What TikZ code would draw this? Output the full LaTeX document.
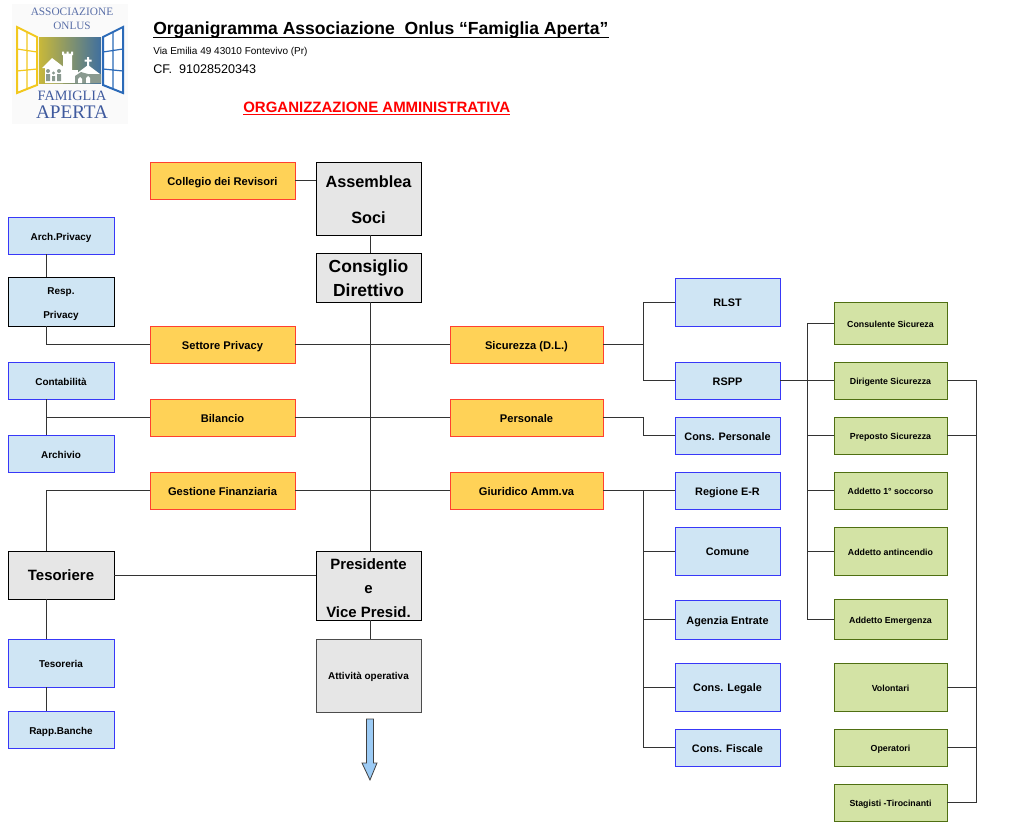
\documentclass[tikz,border=0pt]{standalone}
\usepackage{fontspec}
\setmainfont{Liberation Sans}
\newfontfamily\serifl{Liberation Serif}
\usetikzlibrary{calc}
\definecolor{orF}{HTML}{FFD257}\definecolor{orD}{HTML}{FF4030}
\definecolor{blF}{HTML}{CFE5F4}\definecolor{blD}{HTML}{3838F8}
\definecolor{grF}{HTML}{D3E3A5}\definecolor{grD}{HTML}{4F6F12}
\definecolor{gyF}{HTML}{E6E6E6}\definecolor{lineC}{HTML}{333333}
\definecolor{logoB}{HTML}{5A6FA8}\definecolor{logoC}{HTML}{3F5A9E}\definecolor{arrF}{HTML}{9CCBF5}
\definecolor{winY}{HTML}{F2C81E}\definecolor{winB}{HTML}{2B6AB8}
\definecolor{panY}{HTML}{C8B83A}\definecolor{panB}{HTML}{3F6F9F}\definecolor{figG}{HTML}{8A9A90}
\newlength\tsh
\newcommand\pxbox[7]{%
 \pgfmathsetlengthmacro\bw{(#5-#3)*0.75pt}\pgfmathsetlengthmacro\bh{(#6-#4)*0.75pt}
 \node[#1,minimum width=\bw,minimum height=\bh] (#2) at ({(#3+#5)/2},{(#4+#6)/2}) {\raisebox{\dimexpr-2.5pt-\tsh\relax}[0pt][0pt]{\begin{tabular}{@{}c@{}}#7\end{tabular}}};}
\tikzset{
 tshift/.style={execute at begin node={\setlength\tsh{#1}}},
 base/.style={draw,inner sep=0pt,line width=0.65pt,tshift=0.5pt},
 orbox/.style={base,fill=orF,draw=orD,font=\bfseries\fontsize{8.35}{15}\selectfont},
 blbox/.style={base,tshift=0pt,fill=blF,draw=blD,font=\bfseries\fontsize{8.15}{15}\selectfont},
 blsm/.style={base,tshift=-0.3pt,fill=blF,draw=blD,font=\bfseries\fontsize{7.45}{15}\selectfont},
 grbox/.style={base,tshift=-0.7pt,fill=grF,draw=grD,font=\bfseries\fontsize{6.6}{15}\selectfont},
 gybox/.style={base,tshift=2.2pt,fill=gyF,draw=black,font=\bfseries\fontsize{11.2}{18}\selectfont},
 wire/.style={draw=lineC,line width=0.6pt},
 head/.style={anchor=base west,inner sep=0pt},
 logot/.style={text=logoB,inner sep=0pt},
}
\begin{document}
\begin{tikzpicture}[x=0.75pt,y=-0.75pt]
\useasboundingbox (0,0) rectangle (1015,835);
% header
\node[head,font=\bfseries\fontsize{13.15}{16}\selectfont] (title) at (153,35) {Organigramma Associazione\ \ Onlus “Famiglia Aperta”};
\draw[line width=0.85pt] ([yshift=-1.6pt]title.base west) -- ([yshift=-1.6pt]title.base east);
\node[head,font=\fontsize{7.5}{9}\selectfont] (addr) at (153,54) {Via Emilia 49 43010 Fontevivo (Pr)};
\node[head,font=\fontsize{9.45}{11}\selectfont] (cf) at (153,73) {CF.\ \ 91028520343};
\node[head,text=red,font=\bfseries\fontsize{11.25}{13}\selectfont] (org) at (243,112) {ORGANIZZAZIONE AMMINISTRATIVA};
\draw[red,line width=0.85pt] ([yshift=-1.6pt]org.base west) -- ([yshift=-1.6pt]org.base east);
% logo
\fill[black!2] (12,4) rectangle (128,124);
\node[logot,font=\serifl\fontsize{8.5}{9}\selectfont] (l1) at (72,12) {ASSOCIAZIONE};
\node[logot,font=\serifl\fontsize{8.4}{9}\selectfont] (l2) at (72,26) {ONLUS};
\node[logot,text=logoC,font=\serifl\fontsize{10.7}{11}\selectfont] (l3) at (72,96) {FAMIGLIA};
\node[logot,text=logoC,font=\serifl\fontsize{14.4}{15}\selectfont] (l4) at (72,112) {APERTA};
\shade[left color=panY,right color=panB] (39,37) rectangle (101,83);
% house, tower, church
\fill[white] (42,68) -- (52,58) -- (65,68) -- (63,68) -- (63,83) -- (45,83) -- (45,68) -- cycle;
\fill[white] (62,55) -- (62,51.5) -- (64,51.5) -- (64,53.5) -- (66.5,53.5) -- (66.5,51.5) -- (68.5,51.5) -- (68.5,53.5) -- (71,53.5) -- (71,51.5) -- (73,51.5) -- (73,55) -- (72,55) -- (72,70) -- (63,70) -- (63,55) -- cycle;
\fill[white] (63,70) rectangle (78,83);
\fill[white] (76,74) -- (88,65) -- (100,74) -- cycle;
\fill[white] (87,57) rectangle (89,66) (84.5,59.5) rectangle (91.5,61.5);
\fill[figG] (75,83) -- (75,76) -- (81,72) -- (88,74) -- (101,74) -- (101,83) -- cycle;
\fill[white] (78,83) -- (78,79) -- (80,77) -- (82,79) -- (82,83) -- cycle (86,83) -- (86,78) -- (88,76) -- (90,78) -- (90,83) -- cycle;
\fill[figG] (48,71) circle (2) (53.5,73) circle (1.6) (59,71) circle (2);
\fill[figG] (46,74) rectangle (50,81) (52,76) rectangle (55,81) (57,74) rectangle (61,81);
% windows
\fill[white] (17,27) -- (37,37) -- (37,85) -- (17,93) -- cycle;
\fill[white] (123,27) -- (103,37) -- (103,85) -- (123,93) -- cycle;
\draw[draw=winY,line width=1.5pt] (17,27) -- (37,37) -- (37,85) -- (17,93) -- cycle;
\draw[draw=winY,line width=0.9pt] (27,32) -- (27,89) (17,49) -- (37,52) (17,71) -- (37,69);
\draw[draw=winB,line width=1.5pt] (123,27) -- (103,37) -- (103,85) -- (123,93) -- cycle;
\draw[draw=winB,line width=0.9pt] (113,32) -- (113,89) (123,49) -- (103,52) (123,71) -- (103,69);
% boxes
\pxbox{orbox}{revisori}{150}{162}{295}{199}{Collegio dei Revisori}
\pxbox{gybox,font=\bfseries\fontsize{12.2}{18}\selectfont}{assemblea}{316}{162}{421}{235}{Assemblea\\[9pt]Soci}
\pxbox{gybox,font=\bfseries\fontsize{13.1}{18}\selectfont}{consiglio}{316}{253}{421}{302}{Consiglio\\Direttivo}
\pxbox{blsm}{arch}{8}{217}{114}{254}{Arch.Privacy}
\pxbox{blsm,tshift=-0.7pt,draw=black,font=\bfseries\fontsize{7.45}{18}\selectfont}{resp}{8}{277}{114}{326}{Resp.\\Privacy}
\pxbox{orbox}{privacy}{150}{326}{295}{363}{Settore Privacy}
\pxbox{blsm}{conta}{8}{362}{114}{399}{Contabilità}
\pxbox{orbox}{bilancio}{150}{399}{295}{436}{Bilancio}
\pxbox{blsm}{archivio}{8}{435}{114}{472}{Archivio}
\pxbox{orbox}{gestione}{150}{472}{295}{509}{Gestione Finanziaria}
\pxbox{gybox,tshift=0.7pt}{tesoriere}{8}{551}{114}{599}{Tesoriere}
\pxbox{gybox,tshift=2.6pt}{presidente}{316}{551}{421}{620}{Presidente\\e\\Vice Presid.}
\pxbox{blsm}{tesoreria}{8}{639}{114}{687}{Tesoreria}
\pxbox{blsm}{banche}{8}{711}{114}{748}{Rapp.Banche}
\pxbox{gybox,tshift=-0.4pt,draw=black!70,font=\bfseries\fontsize{7.45}{15}\selectfont}{attivita}{316}{639}{421}{712}{Attività operativa}
\pxbox{orbox}{sicurezza}{450}{326}{603}{363}{Sicurezza (D.L.)}
\pxbox{orbox}{personale}{450}{399}{603}{436}{Personale}
\pxbox{orbox}{giuridico}{450}{472}{603}{509}{Giuridico Amm.va}
\pxbox{blbox}{rlst}{675}{278}{780}{326}{RLST}
\pxbox{blbox}{rspp}{675}{362}{780}{399}{RSPP}
\pxbox{blbox}{conspers}{675}{417}{780}{454}{Cons. Personale}
\pxbox{blbox}{regione}{675}{472}{780}{509}{Regione E-R}
\pxbox{blbox}{comune}{675}{527}{780}{575}{Comune}
\pxbox{blbox}{agenzia}{675}{600}{780}{639}{Agenzia Entrate}
\pxbox{blbox}{legale}{675}{663}{780}{711}{Cons. Legale}
\pxbox{blbox}{fiscale}{675}{729}{780}{766}{Cons. Fiscale}
\pxbox{grbox}{consulente}{834}{302}{947}{344}{Consulente Sicureza}
\pxbox{grbox}{dirigente}{834}{362}{947}{399}{Dirigente Sicurezza}
\pxbox{grbox}{preposto}{834}{417}{947}{454}{Preposto Sicurezza}
\pxbox{grbox}{soccorso}{834}{472}{947}{509}{Addetto 1° soccorso}
\pxbox{grbox}{antincendio}{834}{527}{947}{575}{Addetto antincendio}
\pxbox{grbox}{emergenza}{834}{599}{947}{639}{Addetto Emergenza}
\pxbox{grbox}{volontari}{834}{663}{947}{711}{Volontari}
\pxbox{grbox}{operatori}{834}{729}{947}{766}{Operatori}
\pxbox{grbox}{stagisti}{834}{784}{947}{821}{Stagisti -Tirocinanti}
% bus lines
\coordinate (bL) at (46,0);\coordinate (bC) at (370,0);\coordinate (bR) at (643,0);
\coordinate (bG) at (807,0);\coordinate (bE) at (976,0);
% connectors
\path[wire] (revisori.east) -- (revisori.east -| assemblea.west);
\path[wire] (assemblea.south -| bC) -- (consiglio.north -| bC);
\path[wire] (consiglio.south -| bC) -- (presidente.north -| bC);
\path[wire] (presidente.south -| bC) -- (attivita.north -| bC);
\path[wire] (tesoriere.east) -- (tesoriere.east -| presidente.west);
\path[wire] (arch.south -| bL) -- (resp.north -| bL);
\path[wire] (resp.south -| bL) |- (privacy.west);
\path[wire] (conta.south -| bL) -- (archivio.north -| bL);
\path[wire] (bilancio.west) -- (bilancio.west -| bL);
\path[wire] (gestione.west) -| (tesoriere.north -| bL);
\path[wire] (tesoriere.south -| bL) -- (tesoreria.north -| bL);
\path[wire] (tesoreria.south -| bL) -- (banche.north -| bL);
\path[wire] (privacy.east) -- (sicurezza.west);
\path[wire] (bilancio.east) -- (personale.west);
\path[wire] (gestione.east) -- (giuridico.west);
\path[wire] (sicurezza.east) -- (sicurezza.east -| bR);
\path[wire] (rlst.west) -| (rspp.west -| bR) -- (rspp.west);
\path[wire] (personale.east) -| (conspers.west -| bR) -- (conspers.west);
\path[wire] (giuridico.east) -- (regione.west);
\path[wire] (regione.west -| bR) -- (fiscale.west -| bR) -- (fiscale.west);
\path[wire] (comune.west -| bR) -- (comune.west);
\path[wire] (agenzia.west -| bR) -- (agenzia.west);
\path[wire] (legale.west -| bR) -- (legale.west);
\path[wire] (rspp.east) -- (dirigente.west);
\path[wire] (consulente.west) -| (emergenza.west -| bG) -- (emergenza.west);
\path[wire] (preposto.west -| bG) -- (preposto.west);
\path[wire] (soccorso.west -| bG) -- (soccorso.west);
\path[wire] (antincendio.west -| bG) -- (antincendio.west);
\path[wire] (dirigente.east) -| (stagisti.east -| bE) -- (stagisti.east);
\path[wire] (preposto.east) -- (preposto.east -| bE);
\path[wire] (volontari.east) -- (volontari.east -| bE);
\path[wire] (operatori.east) -- (operatori.east -| bE);
% arrow
\draw[fill=arrF,draw=black!75,line width=0.6pt] (366.5,719) -- (373.5,719) -- (373.5,763) -- (377,763) -- (370,780) -- (362,763) -- (366.5,763) -- cycle;
\end{tikzpicture}
\end{document}
